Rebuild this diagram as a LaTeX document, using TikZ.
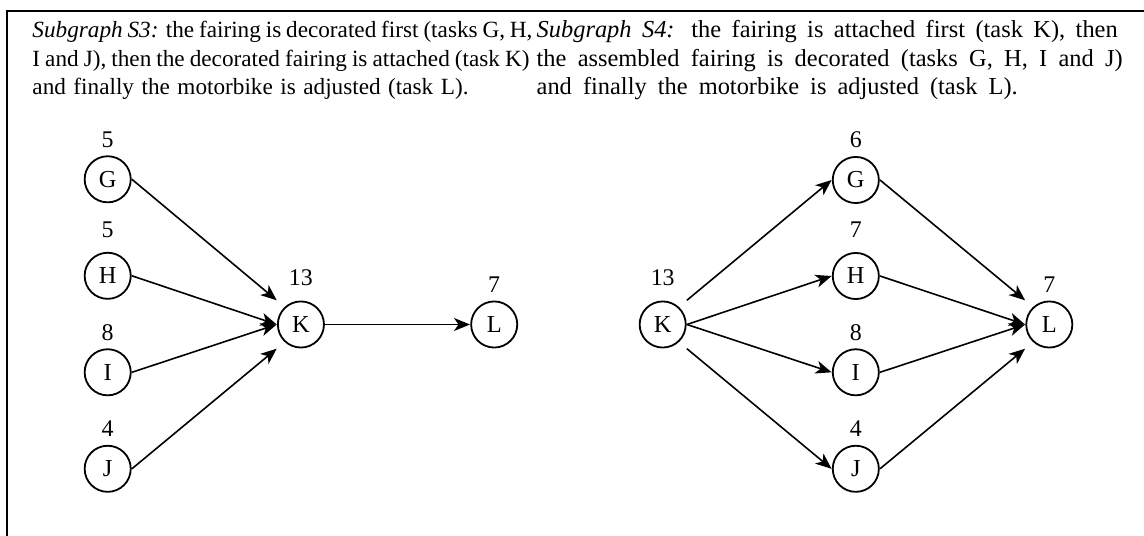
\documentclass[tikz,border=0pt]{standalone}
\usepackage{fontspec}
\setmainfont{Liberation Serif}
\usetikzlibrary{arrows.meta,calc}

% one caption line, set to a given width (word spaces stretch or shrink)
\newcommand\capline[2]{\hbox to #1bp{#2}}

\begin{document}
\begin{tikzpicture}[x=1bp,y=1bp,
  task/.style={rectangle, minimum size=48bp, inner sep=0pt,
    font=\fontsize{24.5}{28}\selectfont,
    path picture={\draw[line width=1.8bp] (path picture bounding box.center) circle (23.05bp);}},
  dur/.style={anchor=base, inner sep=0pt, font=\fontsize{24}{28}\selectfont},
  arc/.style={line width=1.6bp, -{Stealth[length=16bp,width=13bp,inset=4.5bp]}},
  caption/.style={anchor=base west, inner sep=0pt, align=left}
]
\useasboundingbox (0,0) rectangle (1144,536);
\clip (0,0) rectangle (1144,536);

% frame (open to the right and below)
\draw[line width=2bp] (7.3,-20) -- (7.3,524.5) -- (1170,524.5);

% captions (anchored at the baseline of their last line)
\node[caption, font=\fontsize{23.3}{28.3}\selectfont] (capA) at (32.3,441.7)
  {\capline{500}{\textit{Subgraph S3:} the fairing is decorated first (tasks G, H,}\\
   \capline{497}{I and J), then the decorated fairing is attached (task K)}\\
   \capline{436}{and finally the motorbike is adjusted (task L).}};
\node[caption, font=\fontsize{24.5}{28.3}\selectfont] (capB) at (536.5,441.7)
  {\capline{581}{\textit{Subgraph S4:} the fairing is attached first (task K), then}\\
   \capline{586}{the assembled fairing is decorated (tasks G, H, I and J)}\\
   \capline{481}{and finally the motorbike is adjusted (task L).}};

% ---- subgraph S3 ----
\node[task] (G1) at (107.7,356.7) {G};
\node[task] (H1) at (107.7,260.2) {H};
\node[task] (I1) at (107.7,163.7) {I};
\node[task] (J1) at (107.7,67.2) {J};
\node[task] (K1) at (300.9,211.5) {K};
\node[task] (L1) at (494.2,211.5) {L};

\node[dur] (dG1) at ($(G1.center)+(0,32.2)$) {5};
\node[dur] (dH1) at ($(H1.center)+(0,38.6)$) {5};
\node[dur] (dI1) at ($(I1.center)+(0,32.2)$) {8};
\node[dur] (dJ1) at ($(J1.center)+(0,32.2)$) {4};
\node[dur] (dK1) at ($(K1.center)+(0,39.4)$) {13};
\node[dur] (dL1) at ($(L1.center)+(0,32.2)$) {7};

\draw[arc] (G1.east) -- (K1.north west);
\draw[arc] (H1.east) -- (K1.west);
\draw[arc] (I1.east) -- (K1.west);
\draw[arc] (J1.east) -- (K1.south west);
\draw[arc] (K1.east) -- (L1.west);

% ---- subgraph S4 ----
\node[task] (K2) at (662.7,211.5) {K};
\node[task] (G2) at (855.8,356.0) {G};
\node[task] (H2) at (855.8,260.0) {H};
\node[task] (I2) at (855.8,163.7) {I};
\node[task] (J2) at (855.8,67.2) {J};
\node[task] (L2) at (1049.3,211.5) {L};

\node[dur] (dK2) at ($(K2.center)+(0,39.4)$) {13};
\node[dur] (dG2) at ($(G2.center)+(0,32.2)$) {6};
\node[dur] (dH2) at ($(H2.center)+(0,38.6)$) {7};
\node[dur] (dI2) at ($(I2.center)+(0,32.2)$) {8};
\node[dur] (dJ2) at ($(J2.center)+(0,32.2)$) {4};
\node[dur] (dL2) at ($(L2.center)+(0,32.2)$) {7};

\draw[arc] (K2.north east) -- (G2.west);
\draw[arc] (K2.east) -- (H2.west);
\draw[arc] (K2.east) -- (I2.west);
\draw[arc] (K2.south east) -- (J2.west);
\draw[arc] (G2.east) -- (L2.north west);
\draw[arc] (H2.east) -- (L2.west);
\draw[arc] (I2.east) -- (L2.west);
\draw[arc] (J2.east) -- (L2.south west);
\end{tikzpicture}
\end{document}
